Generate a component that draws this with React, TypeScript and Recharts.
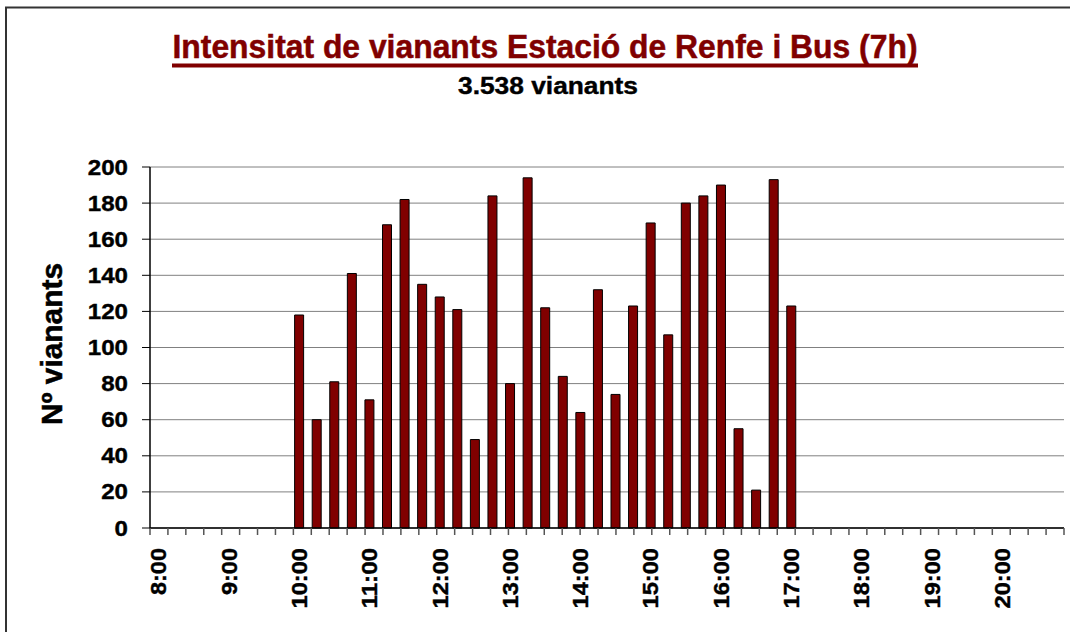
// Intensitat de vianants — bar chart, 15 min intervals (recharts)

import React from 'react';
import { BarChart, Bar, XAxis, YAxis, CartesianGrid } from 'recharts';

const TIMES = [
  '8:00', '8:15', '8:30', '8:45', '9:00', '9:15', '9:30', '9:45',
  '10:00', '10:15', '10:30', '10:45', '11:00', '11:15', '11:30', '11:45',
  '12:00', '12:15', '12:30', '12:45', '13:00', '13:15', '13:30', '13:45',
  '14:00', '14:15', '14:30', '14:45', '15:00', '15:15', '15:30', '15:45',
  '16:00', '16:15', '16:30', '16:45', '17:00', '17:15', '17:30', '17:45',
  '18:00', '18:15', '18:30', '18:45', '19:00', '19:15', '19:30', '19:45',
  '20:00', '20:15', '20:30', '20:45',
];

const VIANANTS: (number | null)[] = [
  null, null, null, null, null, null, null, null,
  118, 60, 81, 141, 71, 168, 182, 135,
  128, 121, 49, 184, 80, 194, 122, 84,
  64, 132, 74, 123, 169, 107, 180, 184,
  190, 55, 21, 193, 123, null, null, null,
  null, null, null, null, null, null, null, null,
  null, null, null, null,
];

const Y_TICKS = [0, 20, 40, 60, 80, 100, 120, 140, 160, 180, 200];

const TITLE = 'Intensitat de vianants Estació de Renfe i Bus (7h)';
const SUBTITLE = '3.538 vianants';
const Y_LABEL = 'Nº vianants';

const DARK_RED = '#800000';
const FONT = '"Liberation Sans", Arial, sans-serif';

const data = TIMES.map((t, i) => ({ time: t, value: VIANANTS[i] }));
// tick marks sit on the category boundaries
const boundaryTicks = [...TIMES.map((_, i) => i), TIMES.length];

// the original font runs a bit wider than Arial
const labelWidth = (s: string) =>
  s.split('').reduce((w, c) => w + (c === ':' ? 6.8 : 13.4), 0);

function YTick({ x, y, payload }: any) {
  const s = String(payload.value);
  return (
    <text
      x={x}
      y={y}
      textAnchor="end"
      dominantBaseline="central"
      fontSize={22}
      fontWeight="bold"
      fill="#000"
      stroke="#000"
      strokeWidth={0.4}
      fontFamily={FONT}
      textLength={labelWidth(s)}
      lengthAdjust="spacingAndGlyphs"
    >
      {s}
    </text>
  );
}

function XTick({ x, y, payload }: any) {
  const s = String(payload.value);
  return (
    <text
      x={x}
      y={y}
      transform={`rotate(-90 ${x} ${y})`}
      textAnchor="end"
      dominantBaseline="central"
      fontSize={22}
      fontWeight="bold"
      fill="#000"
      stroke="#000"
      strokeWidth={0.4}
      fontFamily={FONT}
      textLength={labelWidth(s)}
      lengthAdjust="spacingAndGlyphs"
    >
      {s}
    </text>
  );
}

export default function App() {
  return (
    <div
      style={{
        position: 'absolute',
        left: 0,
        top: 0,
        width: 1070,
        height: 632,
        overflow: 'hidden',
        background: '#fff',
        fontFamily: FONT,
      }}
    >
      <BarChart
        width={1070}
        height={632}
        data={data}
        margin={{ top: 167, right: 6, bottom: 0, left: 0 }}
      >
        <CartesianGrid vertical={false} stroke="#808080" strokeWidth={1} />
        <XAxis
          xAxisId="a"
          type="number"
          domain={[0, TIMES.length]}
          ticks={boundaryTicks}
          interval={0}
          allowDataOverflow
          height={1}
          tick={() => <g />}
          tickSize={7}
          tickLine={{ stroke: '#555', strokeWidth: 1.5 }}
          axisLine={{ stroke: '#000', strokeWidth: 1.5 }}
        />
        <XAxis
          xAxisId="b"
          dataKey="time"
          interval={3}
          height={103}
          tickLine={false}
          axisLine={false}
          tickSize={0}
          tickMargin={19}
          tick={<XTick />}
        />
        <YAxis
          domain={[0, 200]}
          ticks={Y_TICKS}
          interval={0}
          width={150}
          tickSize={8}
          tickMargin={14}
          tickLine={{ stroke: '#000', strokeWidth: 1 }}
          axisLine={{ stroke: '#000', strokeWidth: 1.5 }}
          tick={<YTick />}
        />
        <YAxis
          yAxisId="right"
          orientation="right"
          width={0}
          tick={false}
          tickLine={false}
          axisLine={{ stroke: '#808080', strokeWidth: 1 }}
        />
        <Bar
          xAxisId="b"
          dataKey="value"
          barSize={9}
          fill={DARK_RED}
          stroke="#000"
          strokeWidth={1}
          isAnimationActive={false}
        />
      </BarChart>

      <svg
        width={1070}
        height={632}
        style={{ position: 'absolute', left: 0, top: 0, pointerEvents: 'none' }}
      >
        <rect x={6} y={7.5} width={2000} height={2000} fill="none" stroke="#333" strokeWidth={2} />
        <text
          x={545}
          y={58}
          textAnchor="middle"
          fontSize={33}
          fontWeight="bold"
          fill={DARK_RED}
          stroke={DARK_RED}
          strokeWidth={0.5}
          fontFamily={FONT}
          textLength={745}
          lengthAdjust="spacingAndGlyphs"
        >
          {TITLE}
        </text>
        <line x1={172} x2={918} y1={65.5} y2={65.5} stroke={DARK_RED} strokeWidth={4} />
        <text
          x={548}
          y={94}
          textAnchor="middle"
          fontSize={23}
          fontWeight="bold"
          fill="#000"
          stroke="#000"
          strokeWidth={0.4}
          fontFamily={FONT}
          textLength={180}
          lengthAdjust="spacingAndGlyphs"
        >
          {SUBTITLE}
        </text>
        <text
          x={62}
          y={344}
          transform="rotate(-90 62 344)"
          textAnchor="middle"
          fontSize={29}
          fontWeight="bold"
          fill="#000"
          stroke="#000"
          strokeWidth={0.5}
          fontFamily={FONT}
          textLength={162}
          lengthAdjust="spacingAndGlyphs"
        >
          {Y_LABEL}
        </text>
      </svg>
    </div>
  );
}
